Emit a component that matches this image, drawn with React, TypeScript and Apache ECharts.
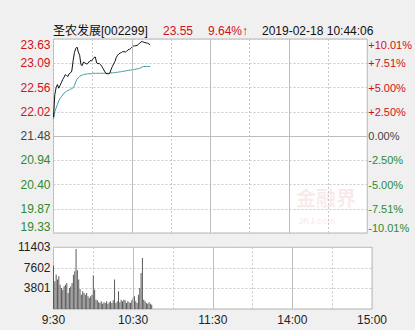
import React, { useEffect, useRef } from "react";
import * as echarts from "echarts";

const minuteIndex: number[] = [];
for (let i = 0; i < 75; i++) minuteIndex.push(i);

const priceValues = [
  21.9, 22.4, 22.55, 22.62, 22.54, 22.6, 22.66, 22.73, 22.78, 22.84,
  22.82, 22.8, 22.86, 22.88, 22.92, 23.15, 23.33, 23.42, 23.45, 23.34,
  23.27, 23.06, 23.04, 23.12, 23.1, 23.08, 23.08, 23.12, 23.15, 23.14,
  23.18, 23.22, 23.23, 23.1, 23.08, 23.09, 23.06, 23.02, 22.97, 22.92,
  22.87, 22.86, 22.86, 22.87, 22.95, 23.02, 23.08, 23.13, 23.22, 23.27,
  23.3, 23.32, 23.33, 23.35, 23.35, 23.34, 23.36, 23.39, 23.4, 23.42,
  23.45, 23.47, 23.48, 23.48, 23.49, 23.51, 23.54, 23.57, 23.57, 23.56,
  23.55, 23.54, 23.54, 23.52, 23.5,
];

const avgValues = [
  21.85, 22.02, 22.1, 22.18, 22.26, 22.31, 22.35, 22.39, 22.43, 22.45,
  22.47, 22.49, 22.5, 22.52, 22.53, 22.55, 22.6, 22.68, 22.74, 22.77,
  22.8, 22.82, 22.83, 22.84, 22.85, 22.85, 22.86, 22.86, 22.86, 22.86,
  22.87, 22.87, 22.87, 22.87, 22.87, 22.87, 22.87, 22.87, 22.87, 22.87,
  22.87, 22.87, 22.87, 22.87, 22.88, 22.88, 22.88, 22.89, 22.89, 22.89,
  22.9, 22.9, 22.91, 22.91, 22.92, 22.92, 22.93, 22.93, 22.94, 22.94,
  22.95, 22.95, 22.96, 22.96, 22.97, 22.97, 22.98, 23.0, 23.01, 23.02,
  23.02, 23.02, 23.02, 23.02, 23.02,
];

const volumeValues = [
  8020, 5120, 6355, 5430, 6050, 4500, 3890, 3580, 4200, 4500,
  4810, 2960, 3890, 4200, 4810, 6350, 6970, 11100, 7160, 5430,
  3700, 2650, 3270, 2960, 2650, 2960, 2345, 2036, 2345, 2650,
  6170, 3580, 1730, 1600, 1234, 1110, 1420, 990, 1234, 1110,
  1420, 990, 1234, 1420, 1110, 1600, 5430, 1110, 1420, 3270,
  1234, 1730, 1420, 1730, 1600, 1110, 1420, 1234, 1110, 1600,
  2036, 2345, 1420, 1110, 2650, 3890, 6660, 9440, 1730, 1420,
  1110, 990, 1234, 990, 800,
];

const priceTicks = ["19.33", "19.87", "20.40", "20.94", "21.48", "22.02", "22.56", "23.09", "23.63"];
const pctTicks = ["-10.01%", "-7.51%", "-5.00%", "-2.50%", "0.00%", "+2.50%", "+5.00%", "+7.51%", "+10.01%"];
const volumeTicks = ["", "3801", "7602", "11403"];
const xTickValues = [0, 60, 120, 180, 240];
const xTickLabels = ["9:30", "10:30", "11:30", "14:00", "15:00"];

const prevClose = 21.48;
const priceMin = 19.33;
const priceMax = 23.63;
const volumeMax = 11403;

const RED = "#d0101a";
const GREEN = "#2f8a2f";
const GRAY = "#444";
const FONT = "'Liberation Sans', 'Noto Sans CJK SC', sans-serif";
const DASH = { color: "#c8c8c8", type: [2, 2] as number[], width: 1 };

function tickColor(idx: number) {
  if (idx > 4) return RED;
  if (idx < 4) return GREEN;
  return GRAY;
}

export default function App() {
  const ref = useRef<HTMLDivElement>(null);
  useEffect(() => {
    document.body.style.margin = "0";
    document.body.style.background = "#f0f0f0";
    if (!ref.current) return;
    const chart = echarts.init(ref.current, undefined, { renderer: "svg" });
    const priceData = minuteIndex.map((i) => [i, priceValues[i]]);
    const avgData = minuteIndex.map((i) => [i, avgValues[i]]);
    const volData = minuteIndex.map((i) => [i, volumeValues[i]]);
    const solidLine = { color: "#bdbdbd", type: "solid", width: 1 };
    chart.setOption({
      animation: false,
      backgroundColor: "#f0f0f0",
      textStyle: { fontFamily: FONT },
      grid: [
        { left: 53.5, right: 43, top: 39, height: 194, show: true, backgroundColor: "#fff", borderColor: "#b8b8b8", borderWidth: 1 },
        { left: 53.5, right: 43, top: 247.3, height: 61.7, show: true, backgroundColor: "#fff", borderColor: "#b8b8b8", borderWidth: 1 },
      ],
      xAxis: [
        {
          type: "value", gridIndex: 0, min: 0, max: 240, interval: 30,
          axisLine: { show: false }, axisTick: { show: false }, axisLabel: { show: false },
          splitLine: { show: true, lineStyle: DASH },
        },
        {
          type: "value", gridIndex: 1, min: 0, max: 240, interval: 30,
          axisLine: { show: false }, axisTick: { show: false },
          axisLabel: {
            show: true, margin: 5, fontSize: 12, fontFamily: FONT, color: "#222",
            formatter: (v: number) => {
              const k = xTickValues.indexOf(Math.round(v));
              return k >= 0 ? xTickLabels[k] : "";
            },
          },
          splitLine: { show: true, lineStyle: DASH },
        },
      ],
      yAxis: [
        {
          type: "value", gridIndex: 0, min: 0, max: 8, interval: 1, position: "left",
          axisLine: { show: false }, axisTick: { show: false },
          axisLabel: {
            margin: 3, fontSize: 12, fontFamily: FONT,
            formatter: (v: number) => priceTicks[Math.round(v)],
            color: (v: any) => tickColor(Math.round(Number(v))),
            verticalAlignMaxLabel: "top", verticalAlignMinLabel: "bottom",
          },
          splitLine: { show: true, lineStyle: DASH },
        },
        {
          type: "value", gridIndex: 0, min: 0, max: 8, interval: 1, position: "right",
          axisLine: { show: false }, axisTick: { show: false },
          axisLabel: {
            margin: 1, fontSize: 11, fontFamily: FONT,
            formatter: (v: number) => pctTicks[Math.round(v)],
            color: (v: any) => tickColor(Math.round(Number(v))),
            verticalAlignMaxLabel: "top", verticalAlignMinLabel: "bottom",
          },
          splitLine: { show: false },
        },
        { type: "value", gridIndex: 0, min: priceMin, max: priceMax, show: false, splitLine: { show: false } },
        {
          type: "value", gridIndex: 1, min: 0, max: volumeMax, interval: 3801,
          axisLine: { show: false }, axisTick: { show: false },
          axisLabel: {
            margin: 3, fontSize: 12, fontFamily: FONT, color: "#222",
            formatter: (v: number) => volumeTicks[Math.round(v / 3801)],
          },
          splitLine: { show: true, lineStyle: DASH },
        },
      ],
      series: [
        {
          type: "line", xAxisIndex: 0, yAxisIndex: 2, data: avgData, showSymbol: false,
          lineStyle: { color: "#3f9c9a", width: 1 }, z: 3, silent: true,
          markLine: {
            silent: true, symbol: "none", label: { show: false }, lineStyle: solidLine,
            data: [{ xAxis: 60 }, { xAxis: 120 }, { xAxis: 180 }, { yAxis: prevClose }],
          },
        },
        {
          type: "line", xAxisIndex: 0, yAxisIndex: 2, data: priceData, showSymbol: false,
          lineStyle: { color: "#111", width: 1 }, z: 4, silent: true,
        },
        {
          type: "bar", xAxisIndex: 1, yAxisIndex: 3, data: volData, barWidth: 1,
          itemStyle: { color: "#5a5a5a" }, silent: true,
          markLine: {
            silent: true, symbol: "none", label: { show: false }, lineStyle: solidLine,
            data: [{ xAxis: 60 }, { xAxis: 120 }, { xAxis: 180 }],
          },
        },
      ],
      graphic: [
        { type: "text", left: 53, top: 25, style: { text: "圣农发展[002299]", fontSize: 12, fontFamily: FONT, fill: "#111" } },
        { type: "text", left: 163, top: 25, style: { text: "23.55", fontSize: 12, fontFamily: FONT, fill: RED } },
        { type: "text", left: 208, top: 25, style: { text: "9.64%↑", fontSize: 12, fontFamily: FONT, fill: RED } },
        { type: "text", left: 262, top: 25, style: { text: "2019-02-18 10:44:06", fontSize: 12, fontFamily: FONT, fill: "#111" } },
        { type: "text", left: 296, top: 187, z: 0, style: { text: "金融界", fontSize: 20, fontWeight: "bold", fontFamily: "'Noto Sans CJK SC', sans-serif", fill: "rgba(210,90,90,0.12)" } },
        { type: "text", left: 298, top: 216, z: 0, style: { text: "JRJ.com", fontSize: 9, fontWeight: "bold", fontFamily: FONT, fill: "rgba(210,90,90,0.12)" } },
      ],
    });
    return () => chart.dispose();
  }, []);
  return <div ref={ref} style={{ width: 415, height: 330 }} />;
}
